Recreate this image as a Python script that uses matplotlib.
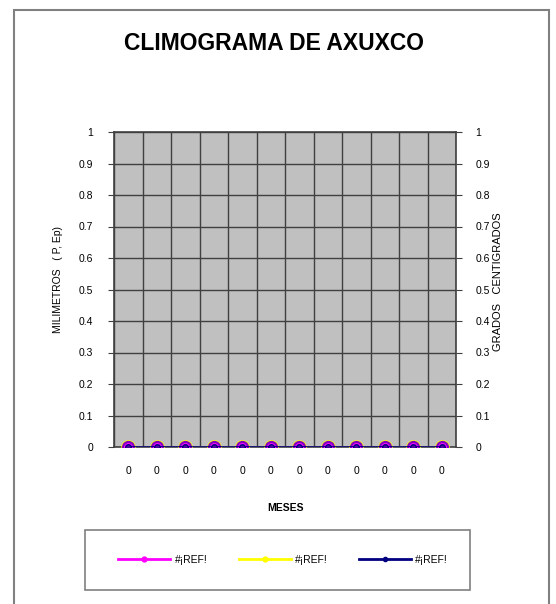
import numpy as np
import matplotlib.pyplot as plt
from matplotlib.patches import Rectangle

plt.rcParams['font.family'] = ['Liberation Sans', 'DejaVu Sans']

# Monthly data (all zero, month labels resolve to 0)
meses = ['0'] * 12
precipitacion = [0, 0, 0, 0, 0, 0, 0, 0, 0, 0, 0, 0]
evaporacion = [0, 0, 0, 0, 0, 0, 0, 0, 0, 0, 0, 0]
temperatura = [0, 0, 0, 0, 0, 0, 0, 0, 0, 0, 0, 0]
nombres = ['#¡REF!', '#¡REF!', '#¡REF!']
colores = ['#FF00FF', '#FFFF00', '#000080']
yticks = [0, 0.1, 0.2, 0.3, 0.4, 0.5, 0.6, 0.7, 0.8, 0.9, 1]

W, H = 556, 604
fig = plt.figure(figsize=(W / 100, H / 100), dpi=100)
fig.patch.set_facecolor('white')

# Outer chart border
fig.patches.append(Rectangle((14 / W, -0.05), 535 / W, 0.05 + 594 / H,
                             transform=fig.transFigure, fill=False,
                             edgecolor='#808080', linewidth=1.5))

ax = fig.add_axes([114 / W, 157 / H, 342 / W, 315 / H])
ax.set_facecolor('#C0C0C0')
x = np.arange(len(meses))

ax.plot(x, precipitacion, color=colores[0], lw=2, marker='o', ms=9,
        mfc='none', mec='#FFFF00', mew=1.5, label=nombres[0], zorder=3)
ax.plot(x, evaporacion, color=colores[1], lw=2, marker='o', ms=8,
        mfc='#FF00FF', mec='#8000C0', mew=1.5, label=nombres[1], zorder=4)
ax.plot(x, temperatura, color=colores[2], lw=2, marker='o', ms=4,
        mfc='#5000A0', mec='#000080', label=nombres[2], zorder=5)

ax.set_xlim(-0.5, len(meses) - 0.5)
ax.set_ylim(0, 1)
ax.set_yticks(yticks)
ax.set_yticklabels([f'{v:g}' for v in yticks], fontsize=7.5)
ax.set_xticks(x)
ax.set_xticklabels(meses, fontsize=7.5)
ax.tick_params(axis='x', length=0, pad=14)
ax.tick_params(axis='y', length=4, direction='out', pad=11, color='#404040')

# Grid: horizontal at each tick, vertical at month boundaries
for v in yticks:
    ax.axhline(v, color='#404040', lw=1, zorder=1)
for b in np.arange(-0.5, len(meses), 1):
    ax.axvline(b, color='#404040', lw=1, zorder=1)
for s in ax.spines.values():
    s.set_color('#404040')
    s.set_linewidth(1.2)

ax2 = ax.twinx()
ax2.set_ylim(0, 1)
ax2.set_yticks(yticks)
ax2.set_yticklabels([f'{v:g}' for v in yticks], fontsize=7.5)
ax2.tick_params(axis='y', length=4, direction='out', pad=10, color='#404040')
for s in ax2.spines.values():
    s.set_visible(False)

ax.set_xlabel('MESES', fontsize=7.5, fontweight='bold', labelpad=19)

fig.text(274 / W, 1 - 44 / H, 'CLIMOGRAMA DE AXUXCO', ha='center',
         va='center', fontsize=16.5, fontweight='bold')
fig.text(58 / W, 1 - 280 / H, 'MILIMETROS   ( P, Ep)', rotation=90,
         ha='center', va='center', fontsize=7.5)
fig.text(498 / W, 1 - 282 / H, 'GRADOS   CENTIGRADOS', rotation=90,
         ha='center', va='center', fontsize=8)

# Legend box with entries centred inside
lx0, lx1, ly0, ly1 = 85, 470, 530, 590
fig.patches.append(Rectangle((lx0 / W, 1 - ly1 / H), (lx1 - lx0) / W,
                             (ly1 - ly0) / H, transform=fig.transFigure,
                             fill=False, edgecolor='#808080', linewidth=1.2))
leg = fig.legend(loc='center', bbox_to_anchor=((lx0 + lx1) / 2 / W + 0.01,
                                               1 - (ly0 + ly1) / 2 / H),
                 ncol=3, fontsize=7.5, frameon=False, handlelength=5.0,
                 handletextpad=0.4, columnspacing=3.0)
for h in leg.legend_handles:
    h.set_markerfacecolor(h.get_color())
    h.set_markeredgecolor(h.get_color())
    h.set_markersize(3)

fig.savefig('out.png', dpi=100)
